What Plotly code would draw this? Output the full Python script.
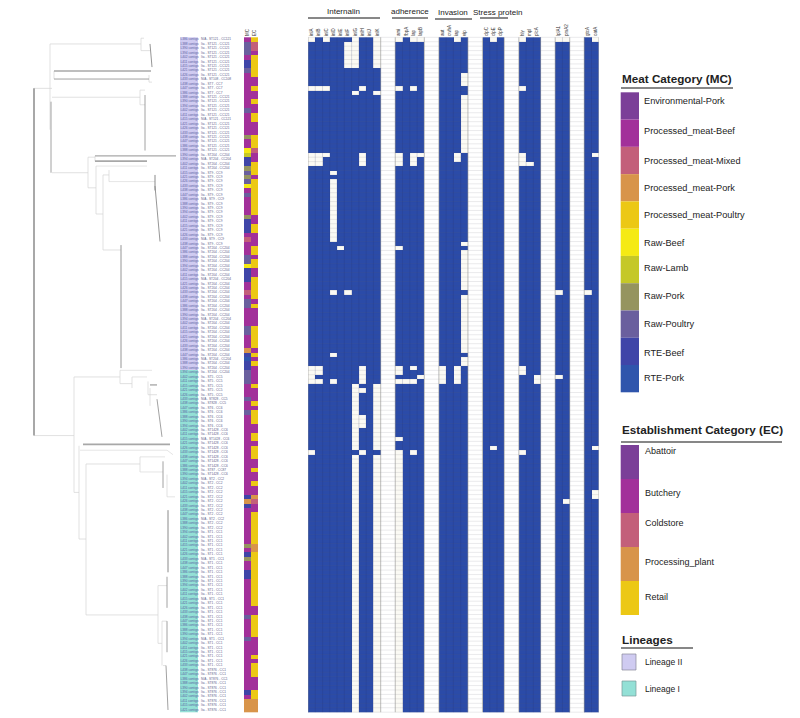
import plotly.graph_objects as go

W, H = 800, 718
ROW_TOP, ROW_H, N_ROWS = 37.3, 4.44, 152

GENE_BLOCKS = {
    "Internalin": ["inlA", "inlB", "inlC", "inlD", "inlE", "inlF", "inlG", "inlH", "inlJ", "inlK"],
    "adherence": ["ami", "fbpA", "lap", "lapB"],
    "Invasion": ["aut", "cwhA", "iap", "vip"],
    "Stress protein": ["clpC", "clpE", "clpP"],
    "Toxin": ["hly", "mpl", "plcA"],
    "Regulation": ["lplA1", "prsA2"],
    "Surface": ["gtcA", "oatA"],
}
BLOCK_GAPS = [2, 2, 2, 2, 2, 2, 0]

ABSENT = {
    "inlA": [0, 11, 26, 27, 28, 74, 75, 76, 77, 93],
    "inlB": [11, 26, 27, 28, 74, 75, 77],
    "inlC": [0, 11, 26],
    "inlD": [30, *range(32, 46), 57, 71, 77],
    "inlE": [47],
    "inlF": [*range(1, 7), 57],
    "inlG": [0, *range(1, 7), 12, *range(78, 93), *range(94, 152)],
    "inlH": [11, 26, 27, 28, 74, 75, 76, 77, 79, 85, 86, 87, 93],
    "inlK": [*range(0, 7), 12, *range(78, 93), *range(94, 152)],
    "ami": [0, 11, 26, 27, 28, 47, 74, 75, 77, 90, *range(93, 152)],
    "fbpA": [77],
    "lap": [0, 11, 26, 27, 28, 74, 77, 93],
    "lapB": [0, 26, 76],
    "aut": [74, 75, 76, 77],
    "iap": [0, 26, 27, 74, 75, 76, 77],
    "vip": [8, 9, 10, *range(13, 26), 46, *range(48, 57), *range(58, 71), 72, 73],
    "clpE": [0, 92],
    "hly": [0, 11, 26, 27, 28, 74, 75, 93],
    "mpl": [28],
    "plcA": [76, 77],
    "lplA1": [0, 57, 76],
    "prsA2": [0, 104],
    "gtcA": [57],
    "oatA": [0, 26, 92, 102, 103],
}

MC_NAMES = ["Environmental-Pork", "Processed_meat-Beef", "Processed_meat-Mixed", "Processed_meat-Pork",
            "Processed_meat-Poultry", "Raw-Beef", "Raw-Lamb", "Raw-Pork", "Raw-Poultry", "RTE-Beef", "RTE-Pork"]
MC_COLORS = ["#7b3f98", "#a2309a", "#c35f7a", "#d8944a", "#ecc815", "#f5ea14", "#c5c828",
             "#95945f", "#6a5f9e", "#3f45a8", "#2f55ac"]
EC_NAMES = ["Abattoir", "Butchery", "Coldstore", "Processing_plant", "Retail"]
EC_COLORS = ["#7b3f98", "#a2309a", "#c35f7a", "#d8944a", "#ecc815"]

MC_DEFAULT = 1
MC_OTHER = {1: 8, 2: 8, 3: 8, 5: 9, 6: 9, 7: 8, 16: 8, 22: 7, 25: 5, 26: 6, 27: 9, 28: 9, 29: 7, 30: 8,
            31: 7, 32: 8, 33: 5, 35: 8, 40: 7, 41: 9, 42: 9, 43: 9, 45: 2, 49: 8, 50: 8, 51: 5, 52: 9,
            53: 9, 54: 9, 57: 2, 59: 8, 60: 8, 65: 8, 66: 8, 70: 3, 71: 9, 72: 10, 73: 9, 74: 9, 75: 8,
            76: 8, 77: 8, 81: 8, 84: 8, 103: 9, 104: 3, 105: 9, 114: 7, 116: 9, 117: 7, 120: 9, 121: 9,
            130: 8, 135: 8, 147: 9, 149: 3, 150: 3, 151: 3}
EC_DEFAULT = 1
EC_RETAIL = [0, 4, 5, 6, 7, 8, 11, 14, 17, 18, 22, 23, 24, 28, 29, 30, *range(32, 40), 42, 43, 47, 48, 50, 51,
             *range(54, 59), 60, *range(65, 70), 71, 73, 78, 82, 84, 85, 86, 89, 90, 92, 93, 94, 97, 100,
             *range(107, 114), 116, 117, *range(118, 128), *range(130, 135), 139, 141, 142, 143, 147, 148]
EC_OTHER = {1: 2, 2: 2, 25: 2, 103: 3, 104: 2, 114: 3, 115: 3, 149: 3, 150: 3, 151: 3}

LINEAGE_II_ROWS = 75
ST_RUNS = [("ST121", "CC121", 9), ("ST108", "CC108", 1), ("ST7", "CC7", 3), ("ST121", "CC121", 13),
           ("ST204", "CC204", 4), ("ST9", "CC9", 17), ("ST204", "CC204", 29), ("ST5", "CC5", 5),
           ("ST828", "CC5", 2), ("ST6", "CC6", 5), ("ST1428", "CC6", 9), ("ST87", "CC87", 1),
           ("ST1428", "CC6", 1), ("ST2", "CC2", 12), ("ST1", "CC1", 31), ("ST876", "CC1", 10)]
ISOLATE_IDS = ["L386", "L388", "L390", "L394", "L402", "L411", "L415", "L421", "L426", "L433", "L438", "L447"]

# tree branches: (branch position start, row start, branch position end, row end, weight)
TREE_BRANCHES = [
    (34, 11.0, 34, 89.2, 2.0), (34, 11.0, 52, 11.0, 0.7),
    (50, 1.0, 50, 20.3, 0.7), (50, 1.0, 141, 1.0, 0.7),
    (141, -0.3, 141, 2.5, 0.7), (141, -0.3, 144, -0.3, 0.7), (141, 2.5, 150, 2.5, 0.7),
    (150, 1.0, 152, 6.2, 0.9),
    (54, 7.1, 54, 8.9, 0.7), (54, 7.1, 151, 7.1, 1.6), (54, 8.9, 149, 8.9, 0.8),
    (149, 8.0, 149, 9.6, 0.7), (149, 9.6, 152, 9.6, 0.7),
    (52, 13.0, 140, 13.0, 0.7), (140, 11.4, 140, 14.7, 0.7), (140, 11.4, 145, 11.4, 0.7),
    (140, 14.7, 145, 14.7, 0.7), (145, 12.5, 145, 25.0, 0.8),
    (51, 14.0, 51, 30.0, 0.8), (52, 30.0, 88, 30.0, 0.7),
    (88, 26.5, 88, 33.4, 0.7), (88, 26.5, 95, 26.5, 0.7),
    (95, 26.2, 95, 27.4, 0.7), (95, 26.2, 176, 26.2, 1.3), (95, 27.4, 147, 27.4, 1.7),
    (88, 33.4, 96, 33.4, 0.7), (96, 28.5, 96, 39.3, 0.7), (96, 28.5, 147, 28.5, 0.6),
    (96, 39.3, 103, 39.3, 0.7), (103, 30.5, 103, 47.4, 0.7), (103, 30.5, 109, 30.5, 0.7),
    (109, 29.4, 109, 32.0, 0.7), (109, 32.0, 155, 32.0, 0.6),
    (155, 30.5, 155, 34.0, 1.0), (155, 33.0, 160, 45.5, 0.9),
    (103, 47.4, 121, 47.4, 0.7), (121, 46.3, 121, 74.0, 0.9),
    (34, 89.2, 74, 89.2, 0.7), (74, 76.0, 74, 102.0, 0.7),
    (74, 76.0, 120, 76.0, 0.7), (120, 74.5, 120, 77.5, 0.7), (120, 74.5, 152, 74.5, 0.6),
    (120, 77.5, 132, 77.5, 0.7), (132, 76.0, 132, 78.5, 0.7), (132, 76.0, 147, 76.0, 0.6),
    (148, 77.0, 148, 80.0, 0.7), (150, 77.8, 157, 77.8, 1.0), (148, 80.0, 157, 80.0, 0.7),
    (150, 78.5, 150, 82.5, 0.7), (157, 81.0, 162, 89.5, 0.8),
    (74, 102.0, 79, 102.0, 0.7), (79, 91.5, 79, 112.5, 0.7),
    (83, 91.2, 170, 91.2, 1.7), (80, 92.5, 167, 92.5, 0.6), (167, 92.5, 173, 93.5, 0.6),
    (79, 112.5, 86, 112.5, 0.7), (86, 95.6, 86, 129.6, 0.7),
    (86, 95.6, 140, 95.6, 0.7), (140, 94.0, 140, 97.4, 0.7), (140, 94.0, 165, 94.0, 0.6),
    (140, 97.4, 163, 97.4, 0.6), (163, 95.0, 163, 101.0, 0.8),
    (167, 98.0, 167, 103.0, 0.7), (167, 103.0, 175, 103.0, 0.6), (168, 106.0, 168, 120.0, 1.0),
    (86, 129.6, 158, 129.6, 0.7), (158, 123.0, 158, 136.0, 0.7), (158, 123.0, 167, 123.0, 0.7),
    (167, 121.0, 167, 128.0, 0.8), (158, 136.0, 162, 136.0, 0.7), (162, 131.0, 162, 141.0, 0.7),
    (162, 131.0, 167, 131.0, 0.7), (167, 131.0, 167, 138.0, 0.8), (163, 141.0, 166, 141.0, 0.7),
    (166, 141.0, 168, 151.0, 0.8),
]

# ---- assemble ----
col_genes = []
for (block, genes), gap in zip(GENE_BLOCKS.items(), BLOCK_GAPS):
    col_genes += genes + [None] * gap
n_cols = len(col_genes)
rows = list(range(N_ROWS))
presence = []
for r in rows:
    presence.append([None if g is None else (0 if r in ABSENT.get(g, []) else 1) for g in col_genes])

mc = [MC_OTHER.get(r, MC_DEFAULT) for r in rows]
ec = [EC_OTHER.get(r, 4 if r in EC_RETAIL else EC_DEFAULT) for r in rows]
st, cc = [], []
for s, c, k in ST_RUNS:
    st += [s] * k
    cc += [c] * k
ids = [ISOLATE_IDS[r % len(ISOLATE_IDS)] + " contigs" for r in rows]
lineage = [0 if r < LINEAGE_II_ROWS else 1 for r in rows]


def discrete(colors):
    n = len(colors)
    out = []
    for i, c in enumerate(colors):
        out += [[i / n, c], [(i + 1) / n, c]]
    return out


px_x = lambda x: x / W
py = lambda y: 1 - y / H
y_at_top = (0 - ROW_TOP) / ROW_H - 0.5
y_at_bot = (H - ROW_TOP) / ROW_H - 0.5

fig = go.Figure()

# tree
for by_weight in sorted({b[4] for b in TREE_BRANCHES}):
    xs, ys = [], []
    for x0, r0, x1, r1, w in TREE_BRANCHES:
        if w == by_weight:
            xs += [x0, x1, None]
            ys += [r0, r1, None]
    colour = "#a8a8a8" if by_weight >= 1.2 else ("#d4d4d4" if by_weight <= 0.7 else "#8a8a8a")
    fig.add_trace(go.Scatter(x=xs, y=ys, mode="lines", line=dict(color=colour, width=by_weight),
                             hoverinfo="skip", xaxis="x", yaxis="y"))

# lineage label strip
fig.add_trace(go.Heatmap(z=[[v] for v in lineage], x=[180, 198], y=rows, zmin=0, zmax=1,
                         colorscale=discrete(["#cfcbf1", "#93e0d6"]), showscale=False,
                         xaxis="x4", yaxis="y", hoverinfo="skip"))
TEXT = dict(mode="text", textposition="middle right", hoverinfo="skip", xaxis="x4", yaxis="y", cliponaxis=False)
fig.add_trace(go.Scatter(x=[180.5] * N_ROWS, y=rows, text=ids,
                         textfont=dict(size=3.2, color="#5a5f9f", family="Liberation Sans"), **TEXT))
fig.add_trace(go.Scatter(x=[201] * N_ROWS, y=rows,
                         text=[("N/A" if r % 9 == 0 else "Ita") + " - " + s + " - " + c for r, s, c in zip(rows, st, cc)],
                         textfont=dict(size=3.2, color="#60608a", family="Liberation Sans"), **TEXT))

# MC / EC strip
fig.add_trace(go.Heatmap(z=[[m] for m in mc], x=[0], y=rows, zmin=0, zmax=11, colorscale=discrete(MC_COLORS),
                         showscale=False, xaxis="x3", yaxis="y", hoverinfo="skip"))
fig.add_trace(go.Heatmap(z=[[e] for e in ec], x=[1], y=rows, zmin=0, zmax=5, colorscale=discrete(EC_COLORS),
                         showscale=False, xaxis="x3", yaxis="y", hoverinfo="skip"))

# gene presence matrix
fig.add_trace(go.Heatmap(z=presence, x=list(range(n_cols)), y=rows, zmin=0, zmax=1,
                         colorscale=[[0, "#fbfaf4"], [1, "#2b4ba8"]], showscale=False,
                         xaxis="x2", yaxis="y", hoverongaps=False, hoverinfo="skip"))

# cell outlines
hx, hy = [], []
for r in range(N_ROWS + 1):
    hx += [-0.5, n_cols - 0.5, None]
    hy += [r - 0.5, r - 0.5, None]
fig.add_trace(go.Scatter(x=hx, y=hy, mode="lines", line=dict(color="rgba(90,90,110,0.22)", width=0.6),
                         hoverinfo="skip", xaxis="x2", yaxis="y"))
edge_x, edge_y, inner_x, inner_y = [], [], [], []
c = 0
for genes, gap in zip(GENE_BLOCKS.values(), BLOCK_GAPS):
    for k in range(len(genes) + 1):
        if k in (0, len(genes)):
            edge_x += [c + k - 0.5, c + k - 0.5, None]
            edge_y += [-0.5, N_ROWS - 0.5, None]
        else:
            inner_x += [c + k - 0.5, c + k - 0.5, None]
            inner_y += [-0.5, N_ROWS - 0.5, None]
    c += len(genes) + gap
fig.add_trace(go.Scatter(x=inner_x, y=inner_y, mode="lines", line=dict(color="rgba(40,50,110,0.3)", width=0.6),
                         hoverinfo="skip", xaxis="x2", yaxis="y"))
fig.add_trace(go.Scatter(x=edge_x, y=edge_y, mode="lines", line=dict(color="rgba(150,150,150,0.8)", width=0.8),
                         hoverinfo="skip", xaxis="x2", yaxis="y"))

shapes, ann = [], []


def text(x, y, s, size, bold=False, anchor="left", color="#222222"):
    ann.append(dict(x=px_x(x), y=py(y), xref="paper", yref="paper", text=f"<b>{s}</b>" if bold else s,
                    showarrow=False, xanchor=anchor, yanchor="middle", borderpad=0,
                    xshift=-1 if anchor == "left" else 0,
                    font=dict(size=size, color=color, family="Liberation Sans")))


def rule(x0, x1, y, width=1.0):
    shapes.append(dict(type="line", xref="paper", yref="paper", x0=px_x(x0), x1=px_x(x1), y0=py(y), y1=py(y),
                       line=dict(color="#111111", width=width)))


def box(x0, x1, y0, y1, colour, line=None):
    shapes.append(dict(type="rect", xref="paper", yref="paper", x0=px_x(x0), x1=px_x(x1), y0=py(y0), y1=py(y1),
                       fillcolor=colour, line=dict(width=0.7 if line else 0, color=line or colour)))


# block headers
for name, cx, ty, x0, x1, uy in [("Internalin", 343, 12, 308, 380, 18), ("adherence", 410, 12, 392, 428, 18),
                                 ("Invasion", 453, 13, 435, 472, 19), ("Stress protein", 497, 13, 480, 508, 18)]:
    text(cx, ty, name, 8, anchor="center")
    rule(x0, x1, uy, 1.0)

# meat legend
text(622, 78, "Meat Category (MC)", 11.7, bold=True)
rule(621, 733, 88, 1.2)
mc_h = 300 / len(MC_NAMES)
mc_label_y = [101, 131, 161, 188, 215, 243, 268, 296, 324, 353, 378]
for i, (n, col) in enumerate(zip(MC_NAMES, MC_COLORS)):
    box(620.7, 639, 92.3 + i * mc_h, 92.3 + (i + 1) * mc_h, col)
    text(643.5, mc_label_y[i], n, 9.2)

# establishment legend
text(622, 429, "Establishment Category (EC)", 11.7, bold=True)
rule(621, 782, 442, 1.2)
ec_h = 170 / len(EC_NAMES)
ec_label_y = [451, 493, 523, 562, 597]
for i, (n, col) in enumerate(zip(EC_NAMES, EC_COLORS)):
    box(620.7, 639, 445 + i * ec_h, 445 + (i + 1) * ec_h, col)
    text(645, ec_label_y[i], n, 9)

# lineages legend
text(622, 639, "Lineages", 11.7, bold=True)
rule(621, 693, 648, 1.2)
box(622, 636, 654, 670, "#cfcbf1", "#888899")
text(645, 662, "Lineage II", 8.5)
box(622, 636, 681, 696, "#93e0d6", "#7a9a98")
text(645, 689, "Lineage I", 8.5)

tick_pos = [i for i, g in enumerate(col_genes) if g]
tick_txt = [g for g in col_genes if g]
hidden = dict(visible=False, showgrid=False, zeroline=False)
fig.update_layout(
    width=W, height=H, margin=dict(l=0, r=0, t=0, b=0), autosize=False,
    paper_bgcolor="white", plot_bgcolor="rgba(0,0,0,0)", showlegend=False,
    xaxis=dict(domain=[0, px_x(178)], range=[0, 178], **hidden),
    yaxis=dict(domain=[0, 1], range=[y_at_bot, y_at_top], **hidden),
    xaxis2=dict(domain=[px_x(308), px_x(308 + n_cols * 7.27)], range=[-0.5, n_cols - 0.5], anchor="free",
                position=py(36), side="top", tickmode="array", tickvals=tick_pos, ticktext=tick_txt,
                tickangle=-90, tickfont=dict(size=4.5, color="#333333", family="Liberation Sans"),
                ticks="", ticklen=0, showgrid=False, zeroline=False, showline=False),
    xaxis3=dict(domain=[px_x(244), px_x(258)], range=[-0.5, 1.5], anchor="free", position=py(36),
                side="top", tickmode="array", tickvals=[0, 1], ticktext=["MC", "EC"], tickangle=-90,
                tickfont=dict(size=4.5, color="#333333", family="Liberation Sans"), ticks="", showgrid=False,
                zeroline=False, showline=False),
    xaxis4=dict(domain=[px_x(180), px_x(240)], range=[180, 240], anchor="y", **hidden),
    shapes=shapes, annotations=ann,
)
fig.write_html("out.html", config={"displayModeBar": False},
               post_script="document.body.style.margin='0';")
